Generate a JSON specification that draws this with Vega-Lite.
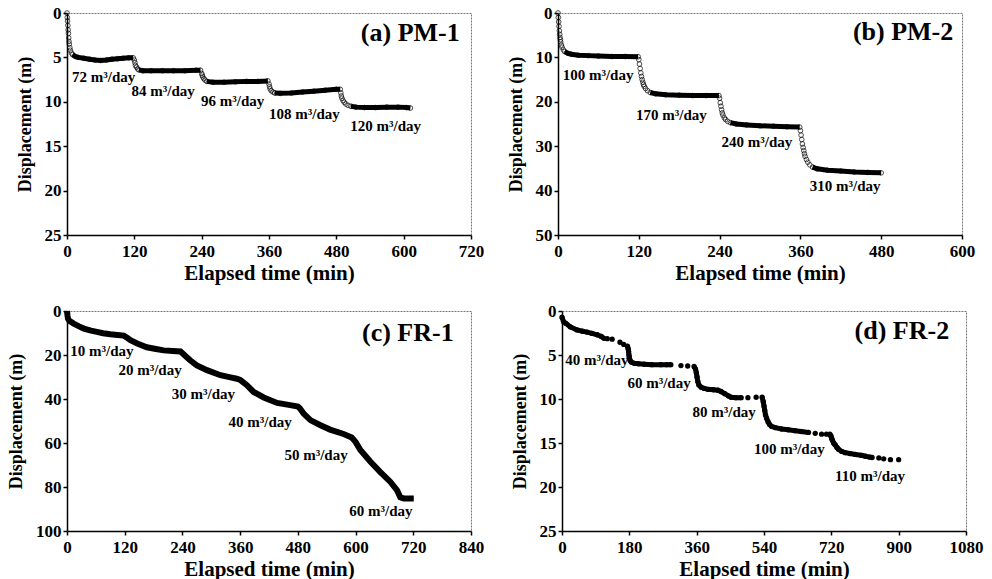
{
  "$schema": "https://vega.github.io/schema/vega-lite/v6.json",
  "background": "white",
  "padding": {"left": 7, "top": 3, "right": 4, "bottom": 0},
  "config": {
    "font": "Liberation Serif",
    "view": {"stroke": "#777", "strokeWidth": 1, "strokeDash": [2, 1]},
    "axis": {
      "grid": false,
      "labelFont": "Liberation Serif", "labelFontSize": 17, "labelFontWeight": "bold", "labelColor": "black",
      "titleFont": "Liberation Serif", "titleFontWeight": "bold", "titleColor": "black",
      "domainColor": "black", "domainWidth": 1.5, "tickColor": "black", "tickWidth": 1.5, "tickSize": 4,
      "labelFlush": false, "labelOverlap": false, "labelPadding": 2, "format": "d"
    },
    "axisX": {"titleFontSize": 21, "titlePadding": 3, "labelPadding": 4},
    "axisY": {"titleFontSize": 18, "titlePadding": 10}
  },
  "datasets": {
    "a": [
      {"t":0,"d":0,"s":0},{"t":0.5,"d":0.5,"s":0},{"t":1,"d":0.9,"s":0},{"t":1.5,"d":1.4,"s":0},{"t":2,"d":1.9,"s":0},{"t":2.5,"d":2.3,"s":0},{"t":3,"d":2.8,"s":0},{"t":3.5,"d":3.2,"s":0},{"t":4,"d":3.5,"s":0},{"t":5,"d":3.9,"s":0},{"t":6,"d":4.2,"s":0},{"t":8,"d":4.5,"s":0},
      {"t":10,"d":4.7,"s":1},{"t":15,"d":4.9,"s":1},{"t":20,"d":5.0,"s":1},{"t":30,"d":5.1,"s":1},{"t":40,"d":5.2,"s":1},{"t":50,"d":5.3,"s":1},{"t":60,"d":5.35,"s":1},{"t":70,"d":5.3,"s":1},{"t":80,"d":5.2,"s":1},{"t":90,"d":5.15,"s":1},{"t":100,"d":5.1,"s":1},{"t":110,"d":5.05,"s":1},{"t":118,"d":5.05,"s":1},
      {"t":120,"d":5.3,"s":0},{"t":121,"d":5.6,"s":0},{"t":122,"d":5.9,"s":0},{"t":124,"d":6.1,"s":0},{"t":126,"d":6.3,"s":0},
      {"t":128,"d":6.4,"s":2},{"t":135,"d":6.5,"s":2},{"t":150,"d":6.5,"s":2},{"t":170,"d":6.5,"s":2},{"t":190,"d":6.5,"s":2},{"t":210,"d":6.5,"s":2},{"t":230,"d":6.45,"s":2},{"t":238,"d":6.45,"s":2},
      {"t":240,"d":6.8,"s":0},{"t":241,"d":7.0,"s":0},{"t":242,"d":7.2,"s":0},{"t":244,"d":7.4,"s":0},{"t":246,"d":7.55,"s":0},
      {"t":249,"d":7.7,"s":3},{"t":260,"d":7.8,"s":3},{"t":280,"d":7.8,"s":3},{"t":300,"d":7.75,"s":3},{"t":320,"d":7.7,"s":3},{"t":340,"d":7.7,"s":3},{"t":358,"d":7.65,"s":3},
      {"t":360,"d":8.0,"s":0},{"t":361,"d":8.3,"s":0},{"t":362,"d":8.55,"s":0},{"t":364,"d":8.75,"s":0},{"t":367,"d":8.9,"s":0},
      {"t":370,"d":9.0,"s":4},{"t":380,"d":9.05,"s":4},{"t":400,"d":9.0,"s":4},{"t":420,"d":8.9,"s":4},{"t":440,"d":8.8,"s":4},{"t":460,"d":8.7,"s":4},{"t":480,"d":8.6,"s":4},{"t":487,"d":8.6,"s":4},
      {"t":488,"d":9.0,"s":0},{"t":489,"d":9.35,"s":0},{"t":490,"d":9.6,"s":0},{"t":492,"d":9.85,"s":0},{"t":494,"d":10.05,"s":0},{"t":497,"d":10.25,"s":0},{"t":501,"d":10.4,"s":0},
      {"t":506,"d":10.5,"s":5},{"t":515,"d":10.6,"s":5},{"t":530,"d":10.65,"s":5},{"t":550,"d":10.65,"s":5},{"t":570,"d":10.6,"s":5},{"t":590,"d":10.6,"s":5},{"t":605,"d":10.65,"s":5},{"t":612,"d":10.7,"s":5}
    ],
    "a_lab": [
      {"t":9,"d":7.25,"label":"72 m³/day"},
      {"t":115,"d":8.75,"label":"84 m³/day"},
      {"t":239,"d":9.9,"label":"96 m³/day"},
      {"t":360,"d":11.4,"label":"108 m³/day"},
      {"t":505,"d":12.7,"label":"120 m³/day"}
    ],
    "a_t": [{"t":700,"d":2.2,"label":"(a) PM-1"}],
    "b": [
      {"t":0,"d":0,"s":0},{"t":0.5,"d":1,"s":0},{"t":1,"d":2,"s":0},{"t":1.5,"d":3,"s":0},{"t":2,"d":4,"s":0},{"t":2.5,"d":4.8,"s":0},{"t":3,"d":5.5,"s":0},{"t":3.5,"d":6,"s":0},{"t":4,"d":6.5,"s":0},{"t":5,"d":7.2,"s":0},{"t":6,"d":7.7,"s":0},{"t":8,"d":8.3,"s":0},
      {"t":10,"d":8.7,"s":1},{"t":15,"d":9.1,"s":1},{"t":20,"d":9.3,"s":1},{"t":30,"d":9.5,"s":1},{"t":45,"d":9.6,"s":1},{"t":60,"d":9.7,"s":1},{"t":80,"d":9.8,"s":1},{"t":100,"d":9.8,"s":1},{"t":119,"d":9.85,"s":1},
      {"t":120,"d":10.5,"s":0},{"t":121,"d":11.5,"s":0},{"t":122,"d":12.5,"s":0},{"t":123,"d":13.5,"s":0},{"t":124,"d":14.3,"s":0},{"t":125,"d":15.0,"s":0},{"t":126,"d":15.6,"s":0},{"t":127,"d":16.1,"s":0},{"t":128,"d":16.5,"s":0},{"t":130,"d":17.0,"s":0},{"t":133,"d":17.5,"s":0},
      {"t":137,"d":17.9,"s":2},{"t":145,"d":18.2,"s":2},{"t":160,"d":18.4,"s":2},{"t":180,"d":18.5,"s":2},{"t":200,"d":18.6,"s":2},{"t":220,"d":18.6,"s":2},{"t":239,"d":18.6,"s":2},
      {"t":240,"d":19.2,"s":0},{"t":241,"d":20.2,"s":0},{"t":242,"d":21,"s":0},{"t":243,"d":21.8,"s":0},{"t":244,"d":22.5,"s":0},{"t":245,"d":23.0,"s":0},{"t":247,"d":23.6,"s":0},{"t":249,"d":24.0,"s":0},{"t":252,"d":24.4,"s":0},
      {"t":256,"d":24.7,"s":3},{"t":265,"d":25.0,"s":3},{"t":280,"d":25.2,"s":3},{"t":300,"d":25.4,"s":3},{"t":320,"d":25.5,"s":3},{"t":340,"d":25.6,"s":3},{"t":359,"d":25.7,"s":3},
      {"t":360,"d":26.5,"s":0},{"t":361,"d":27.5,"s":0},{"t":362,"d":28.5,"s":0},{"t":363,"d":29.5,"s":0},{"t":364,"d":30.3,"s":0},{"t":365,"d":31,"s":0},{"t":366,"d":31.7,"s":0},{"t":367,"d":32.3,"s":0},{"t":369,"d":33,"s":0},{"t":371,"d":33.6,"s":0},{"t":374,"d":34.2,"s":0},
      {"t":378,"d":34.7,"s":4},{"t":385,"d":35.1,"s":4},{"t":400,"d":35.4,"s":4},{"t":420,"d":35.6,"s":4},{"t":440,"d":35.8,"s":4},{"t":460,"d":35.9,"s":4},{"t":480,"d":36.0,"s":4}
    ],
    "b_lab": [
      {"t":7,"d":13.9,"label":"100 m³/day"},
      {"t":116,"d":23,"label":"170 m³/day"},
      {"t":243,"d":29,"label":"240 m³/day"},
      {"t":374,"d":38.9,"label":"310 m³/day"}
    ],
    "b_t": [{"t":587,"d":4.3,"label":"(b) PM-2"}],
    "c": [
      {"t":0,"d":0},{"t":1,"d":2},{"t":2,"d":3.5},{"t":5,"d":4.5},{"t":14,"d":5.7},{"t":25,"d":7},{"t":35,"d":8},{"t":50,"d":8.9},{"t":62,"d":9.5},{"t":75,"d":10.1},{"t":90,"d":10.6},{"t":105,"d":10.9},{"t":118,"d":11.2},
      {"t":125,"d":12.2},{"t":132,"d":13.3},{"t":146,"d":14.8},{"t":166,"d":16.5},{"t":185,"d":17.3},{"t":201,"d":17.9},{"t":220,"d":18.2},{"t":236,"d":18.4},
      {"t":240,"d":19.2},{"t":248,"d":20.8},{"t":256,"d":22.4},{"t":270,"d":24.7},{"t":291,"d":26.9},{"t":319,"d":29.2},{"t":340,"d":30.2},{"t":353,"d":30.8},
      {"t":360,"d":31.3},{"t":364,"d":32},{"t":374,"d":33.7},{"t":388,"d":36.8},{"t":409,"d":39.3},{"t":437,"d":41.8},{"t":464,"d":42.8},{"t":480,"d":43.4},
      {"t":484,"d":44.2},{"t":492,"d":46.6},{"t":506,"d":49.6},{"t":527,"d":51.9},{"t":547,"d":53.9},{"t":575,"d":55.9},{"t":592,"d":57.5},{"t":600,"d":59.5},
      {"t":610,"d":63.2},{"t":631,"d":68.5},{"t":651,"d":73.1},{"t":672,"d":77.6},{"t":686,"d":81.4},{"t":693,"d":84.7},{"t":700,"d":85.2},{"t":721,"d":85.2}
    ],
    "c_lab": [
      {"t":7,"d":18.3,"label":"10 m³/day"},
      {"t":107,"d":26.9,"label":"20 m³/day"},
      {"t":218,"d":37.8,"label":"30 m³/day"},
      {"t":336,"d":50.4,"label":"40 m³/day"},
      {"t":452,"d":65.5,"label":"50 m³/day"},
      {"t":587,"d":90.9,"label":"60 m³/day"}
    ],
    "c_t": [{"t":804,"d":10,"label":"(c) FR-1"}],
    "d": [
      {"t":0,"d":0.7,"s":1},{"t":4,"d":1.2,"s":1},{"t":10,"d":1.4,"s":1},{"t":22,"d":1.8,"s":1},{"t":40,"d":2.15,"s":1},{"t":55,"d":2.3,"s":1},{"t":67,"d":2.4,"s":1},{"t":80,"d":2.55,"s":1},{"t":94,"d":2.7,"s":1},{"t":105,"d":2.9,"s":1},{"t":112,"d":3.1,"s":1},
      {"t":121,"d":3.15,"s":0},{"t":134,"d":3.2,"s":0},{"t":155,"d":3.55,"s":0},{"t":165,"d":3.8,"s":0},
      {"t":175,"d":4.0,"s":2},{"t":177,"d":4.3,"s":2},{"t":178,"d":4.6,"s":2},{"t":179,"d":5.0,"s":2},{"t":180,"d":5.3,"s":2},{"t":182,"d":5.6,"s":2},{"t":185,"d":5.8,"s":2},{"t":193,"d":5.95,"s":2},{"t":205,"d":6.0,"s":2},{"t":220,"d":6.05,"s":2},{"t":240,"d":6.1,"s":2},{"t":264,"d":6.1,"s":2},{"t":280,"d":6.1,"s":2},{"t":291,"d":6.1,"s":2},
      {"t":318,"d":6.2,"s":0},{"t":336,"d":6.25,"s":0},
      {"t":353,"d":6.3,"s":3},{"t":357,"d":6.6,"s":3},{"t":359,"d":7.0,"s":3},{"t":361,"d":7.5,"s":3},{"t":363,"d":8.0,"s":3},{"t":366,"d":8.4,"s":3},{"t":372,"d":8.66,"s":3},{"t":380,"d":8.8,"s":3},{"t":390,"d":8.9,"s":3},{"t":405,"d":8.95,"s":3},{"t":417,"d":9.0,"s":3},{"t":425,"d":9.15,"s":3},{"t":435,"d":9.4,"s":3},{"t":445,"d":9.65,"s":3},{"t":452,"d":9.8,"s":3},{"t":465,"d":9.85,"s":3},{"t":479,"d":9.85,"s":3},
      {"t":497,"d":9.85,"s":0},{"t":519,"d":9.8,"s":0},
      {"t":535,"d":9.8,"s":4},{"t":538,"d":10.3,"s":4},{"t":540,"d":10.8,"s":4},{"t":542,"d":11.3,"s":4},{"t":544,"d":11.8,"s":4},{"t":547,"d":12.2,"s":4},{"t":551,"d":12.6,"s":4},{"t":555,"d":12.9,"s":4},{"t":560,"d":13.1,"s":4},{"t":570,"d":13.25,"s":4},{"t":587,"d":13.4,"s":4},{"t":605,"d":13.5,"s":4},{"t":623,"d":13.6,"s":4},{"t":640,"d":13.7,"s":4},{"t":659,"d":13.8,"s":4},
      {"t":677,"d":13.9,"s":0},{"t":694,"d":14.0,"s":0},{"t":707,"d":14.0,"s":0},
      {"t":716,"d":14.0,"s":5},{"t":719,"d":14.2,"s":5},{"t":721,"d":14.5,"s":5},{"t":723,"d":14.7,"s":5},{"t":726,"d":15.0,"s":5},{"t":730,"d":15.2,"s":5},{"t":735,"d":15.5,"s":5},{"t":739,"d":15.7,"s":5},{"t":747,"d":15.95,"s":5},{"t":757,"d":16.1,"s":5},{"t":770,"d":16.2,"s":5},{"t":784,"d":16.3,"s":5},{"t":800,"d":16.4,"s":5},{"t":811,"d":16.5,"s":5},{"t":822,"d":16.6,"s":5},{"t":829,"d":16.65,"s":5},
      {"t":847,"d":16.7,"s":0},{"t":860,"d":16.8,"s":0},{"t":878,"d":16.9,"s":0},{"t":900,"d":16.9,"s":0}
    ],
    "d_lab": [
      {"t":9,"d":5.6,"label":"40 m³/day"},
      {"t":175,"d":8.2,"label":"60 m³/day"},
      {"t":349,"d":11.45,"label":"80 m³/day"},
      {"t":513,"d":15.7,"label":"100 m³/day"},
      {"t":730,"d":18.7,"label":"110 m³/day"}
    ],
    "d_t": [{"t":1035,"d":2.3,"label":"(d) FR-2"}]
  },
  "spacing": 14,
  "vconcat": [
    {
      "spacing": 21,
      "hconcat": [
        {
          "width": 404, "height": 222,
          "encoding": {
            "x": {"field": "t", "type": "quantitative", "scale": {"domain": [0, 720], "nice": false}, "axis": {"values": [0,120,240,360,480,600,720], "title": "Elapsed time (min)"}},
            "y": {"field": "d", "type": "quantitative", "scale": {"domain": [0, 25], "reverse": true, "nice": false}, "axis": {"values": [0,5,10,15,20,25], "title": "Displacement (m)"}}
          },
          "layer": [
            {"data": {"name": "a"}, "transform": [{"filter": "datum.s > 0"}], "mark": {"type": "line", "color": "black", "strokeWidth": 5}, "encoding": {"detail": {"field": "s", "type": "nominal"}}},
            {"data": {"name": "a"}, "mark": {"type": "point", "shape": "circle", "size": 22, "filled": false, "color": "black", "strokeWidth": 1}},
            {"data": {"name": "a_lab"}, "mark": {"type": "text", "align": "left", "baseline": "middle", "fontSize": 15, "fontWeight": "bold", "font": "Liberation Serif", "color": "black"}, "encoding": {"text": {"field": "label"}}},
            {"data": {"name": "a_t"}, "mark": {"type": "text", "align": "right", "baseline": "middle", "fontSize": 26, "fontWeight": "bold", "font": "Liberation Serif", "color": "black"}, "encoding": {"text": {"field": "label"}}}
          ]
        },
        {
          "width": 404, "height": 222,
          "encoding": {
            "x": {"field": "t", "type": "quantitative", "scale": {"domain": [0, 600], "nice": false}, "axis": {"values": [0,120,240,360,480,600], "title": "Elapsed time (min)"}},
            "y": {"field": "d", "type": "quantitative", "scale": {"domain": [0, 50], "reverse": true, "nice": false}, "axis": {"values": [0,10,20,30,40,50], "title": "Displacement (m)"}}
          },
          "layer": [
            {"data": {"name": "b"}, "transform": [{"filter": "datum.s > 0"}], "mark": {"type": "line", "color": "black", "strokeWidth": 5}, "encoding": {"detail": {"field": "s", "type": "nominal"}}},
            {"data": {"name": "b"}, "mark": {"type": "point", "shape": "circle", "size": 22, "filled": false, "color": "black", "strokeWidth": 1}},
            {"data": {"name": "b_lab"}, "mark": {"type": "text", "align": "left", "baseline": "middle", "fontSize": 15, "fontWeight": "bold", "font": "Liberation Serif", "color": "black"}, "encoding": {"text": {"field": "label"}}},
            {"data": {"name": "b_t"}, "mark": {"type": "text", "align": "right", "baseline": "middle", "fontSize": 26, "fontWeight": "bold", "font": "Liberation Serif", "color": "black"}, "encoding": {"text": {"field": "label"}}}
          ]
        }
      ]
    },
    {
      "spacing": 25,
      "hconcat": [
        {
          "width": 404, "height": 220,
          "encoding": {
            "x": {"field": "t", "type": "quantitative", "scale": {"domain": [0, 840], "nice": false}, "axis": {"values": [0,120,240,360,480,600,720,840], "title": "Elapsed time (min)"}},
            "y": {"field": "d", "type": "quantitative", "scale": {"domain": [0, 100], "reverse": true, "nice": false}, "axis": {"values": [0,20,40,60,80,100], "title": "Displacement (m)"}}
          },
          "layer": [
            {"data": {"name": "c"}, "mark": {"type": "line", "color": "black", "strokeWidth": 6}},
            {"data": {"name": "c_lab"}, "mark": {"type": "text", "align": "left", "baseline": "middle", "fontSize": 15, "fontWeight": "bold", "font": "Liberation Serif", "color": "black"}, "encoding": {"text": {"field": "label"}}},
            {"data": {"name": "c_t"}, "mark": {"type": "text", "align": "right", "baseline": "middle", "fontSize": 26, "fontWeight": "bold", "font": "Liberation Serif", "color": "black"}, "encoding": {"text": {"field": "label"}}}
          ]
        },
        {
          "width": 404, "height": 220,
          "encoding": {
            "x": {"field": "t", "type": "quantitative", "scale": {"domain": [0, 1080], "nice": false}, "axis": {"values": [0,180,360,540,720,900,1080], "title": "Elapsed time (min)"}},
            "y": {"field": "d", "type": "quantitative", "scale": {"domain": [0, 25], "reverse": true, "nice": false}, "axis": {"values": [0,5,10,15,20,25], "title": "Displacement (m)"}}
          },
          "layer": [
            {"data": {"name": "d"}, "transform": [{"filter": "datum.s > 0"}], "mark": {"type": "line", "color": "black", "strokeWidth": 5}, "encoding": {"detail": {"field": "s", "type": "nominal"}}},
            {"data": {"name": "d"}, "mark": {"type": "point", "shape": "circle", "size": 28, "filled": true, "color": "black", "opacity": 1}},
            {"data": {"name": "d_lab"}, "mark": {"type": "text", "align": "left", "baseline": "middle", "fontSize": 15, "fontWeight": "bold", "font": "Liberation Serif", "color": "black"}, "encoding": {"text": {"field": "label"}}},
            {"data": {"name": "d_t"}, "mark": {"type": "text", "align": "right", "baseline": "middle", "fontSize": 26, "fontWeight": "bold", "font": "Liberation Serif", "color": "black"}, "encoding": {"text": {"field": "label"}}}
          ]
        }
      ]
    }
  ]
}
